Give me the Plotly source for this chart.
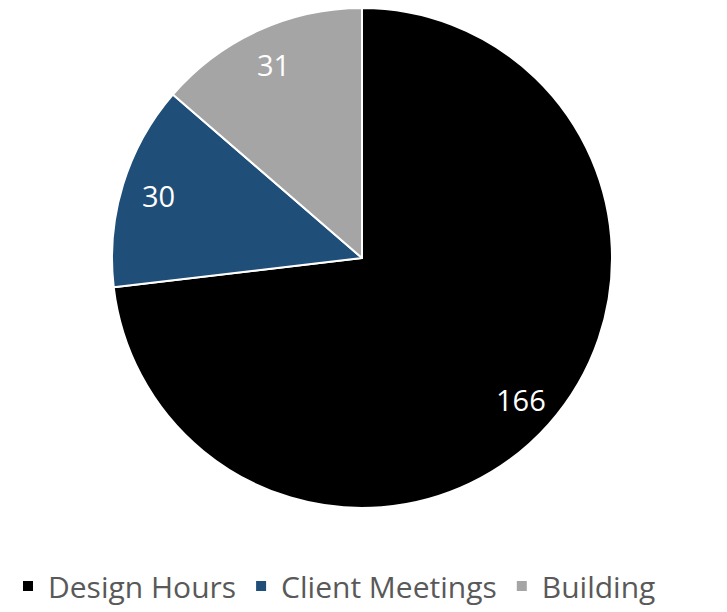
import math
import plotly.graph_objects as go

categories = ["Design Hours", "Client Meetings", "Building"]
values = [166, 30, 31]
colors = ["#000000", "#1F4E79", "#A5A5A5"]

W, H = 727, 612
OFF = 8  # page body margin offset
CX, CY, R = 362 - OFF, 258 - OFF, 250
LABEL_R = 0.85

fig = go.Figure(go.Pie(
    labels=categories,
    values=values,
    sort=False,
    direction="clockwise",
    rotation=0,
    marker=dict(colors=colors, line=dict(color="white", width=2)),
    textinfo="none",
    hoverinfo="label+value",
    domain=dict(x=[(CX - R) / W, (CX + R) / W], y=[1 - (CY + R) / H, 1 - (CY - R) / H]),
    showlegend=True,
))

total = sum(values)
cum = 0
for v in values:
    theta = math.radians(90 - 360 * (cum + v / 2) / total)
    cum += v
    fig.add_annotation(
        x=(CX + LABEL_R * R * math.cos(theta)) / W,
        y=1 - (CY - LABEL_R * R * math.sin(theta)) / H,
        xref="paper", yref="paper",
        xanchor="center", yanchor="middle",
        text=str(v), showarrow=False,
        font=dict(family="Open Sans", size=29, color="white"),
    )

fig.update_layout(
    width=W, height=H,
    margin=dict(l=0, r=0, t=0, b=0),
    paper_bgcolor="white",
    plot_bgcolor="white",
    legend=dict(
        orientation="h",
        x=0.0, xanchor="left",
        y=1 - (586 - OFF) / H, yanchor="middle",
        font=dict(family="Open Sans", size=30, color="#595959"),
        itemwidth=30,
    ),
)

fig.write_html("out.html")
